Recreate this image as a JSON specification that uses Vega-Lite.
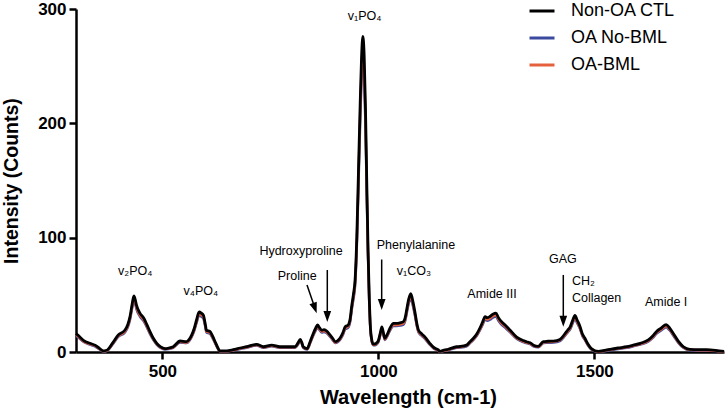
{
  "$schema": "https://vega.github.io/schema/vega-lite/v6.json",
  "width": 648,
  "height": 343,
  "autosize": "none",
  "padding": {"left": 76, "top": 9, "right": 4, "bottom": 61},
  "background": "white",
  "config": {
    "font": "Liberation Sans",
    "view": {"stroke": null},
    "axis": {
      "domainColor": "#000", "domainWidth": 2.5, "tickColor": "#000", "tickWidth": 2.5, "tickSize": 7,
      "labelColor": "#000", "labelFontSize": 17, "labelFontWeight": "bold", "labelFont": "Liberation Sans",
      "titleColor": "#000", "titleFontSize": 20, "titleFontWeight": "bold", "titleFont": "Liberation Sans",
      "grid": false
    }
  },
  "datasets": {
    "spec": [
      {"w":300,"ctl":16,"bml":15.2,"nobml":14.3},
      {"w":305,"ctl":14.5,"bml":13.6,"nobml":12.9},
      {"w":318,"ctl":10,"bml":9.3,"nobml":8.7},
      {"w":332,"ctl":7.6,"bml":7,"nobml":6.5},
      {"w":344,"ctl":6,"bml":5.5,"nobml":5},
      {"w":355,"ctl":3,"bml":2.6,"nobml":2.2},
      {"w":363,"ctl":1,"bml":0.7,"nobml":0.4},
      {"w":371,"ctl":1.5,"bml":1.1,"nobml":0.8},
      {"w":385,"ctl":8,"bml":7.4,"nobml":6.8},
      {"w":398,"ctl":15,"bml":14.1,"nobml":13.4},
      {"w":413,"ctl":19,"bml":17.9,"nobml":17.1},
      {"w":420,"ctl":24,"bml":22.7,"nobml":21.7},
      {"w":425,"ctl":31,"bml":29.5,"nobml":28.2},
      {"w":430,"ctl":42,"bml":40,"nobml":38.5},
      {"w":434,"ctl":49,"bml":46.8,"nobml":45},
      {"w":437,"ctl":46,"bml":43.9,"nobml":42.2},
      {"w":440,"ctl":41,"bml":39,"nobml":37.5},
      {"w":448,"ctl":34,"bml":32.3,"nobml":31},
      {"w":457,"ctl":29.5,"bml":28,"nobml":26.8},
      {"w":464,"ctl":24,"bml":22.7,"nobml":21.7},
      {"w":471,"ctl":18,"bml":17,"nobml":16.1},
      {"w":479,"ctl":12,"bml":11.2,"nobml":10.6},
      {"w":487,"ctl":7.6,"bml":7,"nobml":6.5},
      {"w":496,"ctl":4.5,"bml":4,"nobml":3.6},
      {"w":506,"ctl":3,"bml":2.6,"nobml":2.2},
      {"w":515,"ctl":3.5,"bml":3.1,"nobml":2.7},
      {"w":525,"ctl":4.6,"bml":4.1,"nobml":3.7},
      {"w":541,"ctl":9.6,"bml":8.9,"nobml":8.3},
      {"w":556,"ctl":9,"bml":8.3,"nobml":7.8},
      {"w":562,"ctl":11,"bml":10.3,"nobml":9.6},
      {"w":568,"ctl":15,"bml":14.1,"nobml":13.4},
      {"w":574,"ctl":21,"bml":19.9,"nobml":19},
      {"w":579,"ctl":28,"bml":26.6,"nobml":25.4},
      {"w":585,"ctl":35,"bml":33.3,"nobml":32},
      {"w":590,"ctl":34,"bml":32.3,"nobml":31},
      {"w":595,"ctl":32,"bml":30.4,"nobml":29.2},
      {"w":599,"ctl":25,"bml":23.7,"nobml":22.7},
      {"w":602,"ctl":19,"bml":17.9,"nobml":17.1},
      {"w":610,"ctl":18,"bml":17,"nobml":16.1},
      {"w":616,"ctl":14,"bml":13.1,"nobml":12.4},
      {"w":622,"ctl":9,"bml":8.3,"nobml":7.8},
      {"w":628,"ctl":4,"bml":3.5,"nobml":3.1},
      {"w":633,"ctl":1,"bml":0.7,"nobml":0.4},
      {"w":649,"ctl":1,"bml":0.7,"nobml":0.4},
      {"w":664,"ctl":2,"bml":1.6,"nobml":1.3},
      {"w":680,"ctl":3.5,"bml":3.1,"nobml":2.7},
      {"w":695,"ctl":4.6,"bml":4.1,"nobml":3.7},
      {"w":718,"ctl":6.7,"bml":6.1,"nobml":5.6},
      {"w":734,"ctl":4.6,"bml":4.1,"nobml":3.7},
      {"w":753,"ctl":6,"bml":5.5,"nobml":5},
      {"w":772,"ctl":4.6,"bml":4.1,"nobml":3.7},
      {"w":795,"ctl":4.6,"bml":4.1,"nobml":3.7},
      {"w":807,"ctl":4.6,"bml":4.1,"nobml":3.7},
      {"w":814,"ctl":8,"bml":7.4,"nobml":6.8},
      {"w":819,"ctl":11,"bml":10.3,"nobml":9.6},
      {"w":823,"ctl":8,"bml":7.4,"nobml":6.8},
      {"w":826,"ctl":4.6,"bml":4.1,"nobml":3.7},
      {"w":835,"ctl":3,"bml":2.6,"nobml":2.2},
      {"w":842,"ctl":9,"bml":8.3,"nobml":7.8},
      {"w":849,"ctl":16,"bml":15,"nobml":14.3},
      {"w":855,"ctl":21,"bml":19.9,"nobml":19},
      {"w":859,"ctl":23.6,"bml":22.4,"nobml":21.3},
      {"w":864,"ctl":21,"bml":19.9,"nobml":19},
      {"w":869,"ctl":19,"bml":17.9,"nobml":17.1},
      {"w":874,"ctl":19.5,"bml":18.4,"nobml":17.5},
      {"w":879,"ctl":18.7,"bml":17.7,"nobml":16.8},
      {"w":888,"ctl":15,"bml":14.1,"nobml":13.4},
      {"w":894,"ctl":12,"bml":11.2,"nobml":10.6},
      {"w":900,"ctl":9,"bml":8.3,"nobml":7.8},
      {"w":906,"ctl":10,"bml":9.3,"nobml":8.7},
      {"w":911,"ctl":12,"bml":11.2,"nobml":10.6},
      {"w":918,"ctl":17,"bml":16,"nobml":15.2},
      {"w":923,"ctl":22,"bml":20.8,"nobml":19.9},
      {"w":930,"ctl":23.6,"bml":22.4,"nobml":21.3},
      {"w":935,"ctl":30,"bml":28.5,"nobml":27.3},
      {"w":938,"ctl":39.6,"bml":37.7,"nobml":36.2},
      {"w":942,"ctl":50,"bml":47.7,"nobml":45.9},
      {"w":946,"ctl":63,"bml":60.2,"nobml":58},
      {"w":950,"ctl":100,"bml":95.7,"nobml":92.4},
      {"w":954,"ctl":160,"bml":153.3,"nobml":148.2},
      {"w":958,"ctl":220,"bml":210.9,"nobml":204},
      {"w":961,"ctl":258,"bml":247.4,"nobml":239.3},
      {"w":964,"ctl":276,"bml":264.7,"nobml":256},
      {"w":967,"ctl":260,"bml":249.3,"nobml":241.2},
      {"w":970,"ctl":215,"bml":206.1,"nobml":199.4},
      {"w":973,"ctl":150,"bml":143.7,"nobml":138.9},
      {"w":976,"ctl":90,"bml":86.1,"nobml":83.1},
      {"w":979,"ctl":45,"bml":42.9,"nobml":41.3},
      {"w":981,"ctl":25,"bml":23.7,"nobml":22.7},
      {"w":984,"ctl":12,"bml":11.2,"nobml":10.6},
      {"w":988,"ctl":7,"bml":6.4,"nobml":5.9},
      {"w":992,"ctl":7,"bml":6.4,"nobml":5.9},
      {"w":996,"ctl":8,"bml":7.4,"nobml":6.8},
      {"w":1000,"ctl":10,"bml":9.3,"nobml":8.7},
      {"w":1004,"ctl":16,"bml":15,"nobml":14.3},
      {"w":1008,"ctl":22,"bml":20.8,"nobml":19.9},
      {"w":1012,"ctl":16,"bml":15,"nobml":14.3},
      {"w":1015,"ctl":12,"bml":11.2,"nobml":10.6},
      {"w":1020,"ctl":15,"bml":14.1,"nobml":13.4},
      {"w":1027,"ctl":21,"bml":19.9,"nobml":19},
      {"w":1035,"ctl":25,"bml":23.7,"nobml":22.7},
      {"w":1042,"ctl":25,"bml":23.7,"nobml":22.7},
      {"w":1050,"ctl":25.5,"bml":24.2,"nobml":23.1},
      {"w":1058,"ctl":26.5,"bml":25.1,"nobml":24},
      {"w":1062,"ctl":30,"bml":28.5,"nobml":27.3},
      {"w":1066,"ctl":38,"bml":36.2,"nobml":34.7},
      {"w":1070,"ctl":46,"bml":43.9,"nobml":42.2},
      {"w":1075,"ctl":51,"bml":48.7,"nobml":46.8},
      {"w":1080,"ctl":44,"bml":42,"nobml":40.3},
      {"w":1085,"ctl":34,"bml":32.3,"nobml":31},
      {"w":1089,"ctl":25,"bml":23.7,"nobml":22.7},
      {"w":1093,"ctl":19,"bml":17.9,"nobml":17.1},
      {"w":1100,"ctl":16,"bml":15,"nobml":14.3},
      {"w":1108,"ctl":13,"bml":12.2,"nobml":11.5},
      {"w":1119,"ctl":7.6,"bml":7,"nobml":6.5},
      {"w":1128,"ctl":4,"bml":3.5,"nobml":3.1},
      {"w":1138,"ctl":2,"bml":1.6,"nobml":1.3},
      {"w":1143,"ctl":0.5,"bml":0.2,"nobml":0},
      {"w":1150,"ctl":1.5,"bml":1.1,"nobml":0.8},
      {"w":1158,"ctl":2,"bml":1.6,"nobml":1.3},
      {"w":1166,"ctl":3,"bml":2.6,"nobml":2.2},
      {"w":1181,"ctl":4.6,"bml":4.1,"nobml":3.7},
      {"w":1189,"ctl":4.8,"bml":4.3,"nobml":3.9},
      {"w":1204,"ctl":6,"bml":5.5,"nobml":5},
      {"w":1212,"ctl":9,"bml":8.3,"nobml":7.8},
      {"w":1220,"ctl":12,"bml":11.2,"nobml":10.6},
      {"w":1228,"ctl":16,"bml":15,"nobml":14.3},
      {"w":1235,"ctl":21,"bml":19.9,"nobml":19},
      {"w":1241,"ctl":26,"bml":24.7,"nobml":23.6},
      {"w":1247,"ctl":31,"bml":29.5,"nobml":28.2},
      {"w":1252,"ctl":30,"bml":28.5,"nobml":27.3},
      {"w":1258,"ctl":31,"bml":29.5,"nobml":28.2},
      {"w":1265,"ctl":33,"bml":31.4,"nobml":30.1},
      {"w":1272,"ctl":34,"bml":32.3,"nobml":31},
      {"w":1278,"ctl":30,"bml":28.5,"nobml":27.3},
      {"w":1285,"ctl":26.5,"bml":25.1,"nobml":24},
      {"w":1295,"ctl":23,"bml":21.8,"nobml":20.8},
      {"w":1305,"ctl":19,"bml":17.9,"nobml":17.1},
      {"w":1320,"ctl":13,"bml":12.2,"nobml":11.5},
      {"w":1335,"ctl":10,"bml":9.3,"nobml":8.7},
      {"w":1343,"ctl":9,"bml":8.3,"nobml":7.8},
      {"w":1351,"ctl":8,"bml":7.4,"nobml":6.8},
      {"w":1359,"ctl":6,"bml":5.5,"nobml":5},
      {"w":1370,"ctl":5,"bml":4.5,"nobml":4.1},
      {"w":1382,"ctl":9,"bml":8.3,"nobml":7.8},
      {"w":1392,"ctl":9.4,"bml":8.7,"nobml":8.1},
      {"w":1405,"ctl":9.6,"bml":8.9,"nobml":8.3},
      {"w":1420,"ctl":11,"bml":10.3,"nobml":9.6},
      {"w":1432,"ctl":16,"bml":15,"nobml":14.3},
      {"w":1438,"ctl":19,"bml":17.9,"nobml":17.1},
      {"w":1444,"ctl":22,"bml":20.8,"nobml":19.9},
      {"w":1450,"ctl":28,"bml":26.6,"nobml":25.4},
      {"w":1455,"ctl":32,"bml":30.4,"nobml":29.2},
      {"w":1460,"ctl":28,"bml":26.6,"nobml":25.4},
      {"w":1467,"ctl":22,"bml":20.8,"nobml":19.9},
      {"w":1472,"ctl":16,"bml":15,"nobml":14.3},
      {"w":1478,"ctl":12,"bml":11.2,"nobml":10.6},
      {"w":1485,"ctl":7,"bml":6.4,"nobml":5.9},
      {"w":1493,"ctl":3,"bml":2.6,"nobml":2.2},
      {"w":1509,"ctl":0.5,"bml":0.2,"nobml":0},
      {"w":1536,"ctl":2.3,"bml":1.9,"nobml":1.5},
      {"w":1555,"ctl":3.5,"bml":3.1,"nobml":2.7},
      {"w":1575,"ctl":4.6,"bml":4.1,"nobml":3.7},
      {"w":1590,"ctl":6,"bml":5.5,"nobml":5},
      {"w":1606,"ctl":7.6,"bml":7,"nobml":6.5},
      {"w":1625,"ctl":10.5,"bml":9.8,"nobml":9.2},
      {"w":1635,"ctl":14,"bml":13.1,"nobml":12.4},
      {"w":1644,"ctl":18,"bml":17,"nobml":16.1},
      {"w":1655,"ctl":21,"bml":19.9,"nobml":19},
      {"w":1666,"ctl":24,"bml":22.7,"nobml":21.7},
      {"w":1674,"ctl":21,"bml":19.9,"nobml":19},
      {"w":1683,"ctl":16,"bml":15,"nobml":14.3},
      {"w":1695,"ctl":9,"bml":8.3,"nobml":7.8},
      {"w":1706,"ctl":4.6,"bml":4.1,"nobml":3.7},
      {"w":1721,"ctl":2.3,"bml":1.9,"nobml":1.5},
      {"w":1740,"ctl":2,"bml":1.6,"nobml":1.3},
      {"w":1760,"ctl":2,"bml":1.6,"nobml":1.3},
      {"w":1780,"ctl":1.5,"bml":1.1,"nobml":0.8},
      {"w":1800,"ctl":0.5,"bml":0.2,"nobml":0}
    ],
    "labels": [
      {"w":437,"v":71,"t":"v₂PO₄"},
      {"w":589,"v":53.5,"t":"v₄PO₄"},
      {"w":968,"v":293.5,"t":"v₁PO₄"},
      {"w":821,"v":88.5,"t":"Hydroxyproline"},
      {"w":812,"v":66.5,"t":"Proline"},
      {"w":1087,"v":94,"t":"Phenylalanine"},
      {"w":1082,"v":70.5,"t":"v₁CO₃"},
      {"w":1263,"v":50.5,"t":"Amide III"},
      {"w":1427,"v":81,"t":"GAG"},
      {"w":1666,"v":43.5,"t":"Amide I"}
    ],
    "leftlabels": [
      {"w":1448,"v":62,"t":"CH₂"},
      {"w":1448,"v":47,"t":"Collagen"}
    ],
    "arrows": [
      {"w":834.7,"v":58.6,"w2":853,"v2":38.4},
      {"w":881.7,"v":71.7,"w2":881.7,"v2":31.1},
      {"w":1007.6,"v":80.9,"w2":1007.6,"v2":41.6},
      {"w":1428,"v":67.4,"w2":1428,"v2":27}
    ],
    "heads": [
      {"w":881.7,"v":31.1},
      {"w":1007.6,"v":41.6},
      {"w":1428,"v":27}
    ],
    "diaghead": [
      {"w":853,"v":38.4}
    ]
  },
  "layer": [
    {
      "data": {"name": "spec"},
      "mark": {"type": "line", "strokeWidth": 2.5, "interpolate": "monotone"},
      "encoding": {
        "x": {"field": "w", "type": "quantitative", "scale": {"domain": [300, 1800], "nice": false, "zero": false},
              "axis": {"values": [500, 1000, 1500], "format": "d", "title": "Wavelength (cm-1)", "labelPadding": 4, "titlePadding": 8, "titleX": 332}},
        "y": {"field": "nobml", "type": "quantitative", "scale": {"domain": [0, 300], "nice": false},
              "axis": {"values": [0, 100, 200, 300], "format": "d", "title": "Intensity (Counts)", "titleFontSize": 19.5, "labelPadding": 3, "titlePadding": 16}},
        "color": {"datum": "OA No-BML", "type": "nominal",
                  "scale": {"domain": ["Non-OA CTL", "OA No-BML", "OA-BML"], "range": ["#000000", "#3B4A9E", "#E5603D"]},
                  "legend": {"title": null, "orient": "none", "legendX": 452, "legendY": -12, "symbolType": "stroke",
                             "symbolSize": 625, "symbolStrokeWidth": 3, "labelFontSize": 18, "labelFont": "Liberation Sans",
                             "labelColor": "#000", "labelOffset": 15, "rowPadding": 4, "padding": 0}}
      }
    },
    {
      "data": {"name": "spec"},
      "mark": {"type": "line", "strokeWidth": 2.5, "interpolate": "monotone"},
      "encoding": {
        "x": {"field": "w", "type": "quantitative"},
        "y": {"field": "bml", "type": "quantitative"},
        "color": {"datum": "OA-BML", "type": "nominal"}
      }
    },
    {
      "data": {"name": "spec"},
      "mark": {"type": "line", "strokeWidth": 2.8, "interpolate": "monotone"},
      "encoding": {
        "x": {"field": "w", "type": "quantitative"},
        "y": {"field": "ctl", "type": "quantitative"},
        "color": {"datum": "Non-OA CTL", "type": "nominal"}
      }
    },
    {
      "data": {"name": "labels"},
      "mark": {"type": "text", "fontSize": 12.5, "font": "Liberation Sans", "color": "#000", "align": "center", "baseline": "middle"},
      "encoding": {
        "x": {"field": "w", "type": "quantitative"},
        "y": {"field": "v", "type": "quantitative"},
        "text": {"field": "t"}
      }
    },
    {
      "data": {"name": "leftlabels"},
      "mark": {"type": "text", "fontSize": 12.5, "font": "Liberation Sans", "color": "#000", "align": "left", "baseline": "middle"},
      "encoding": {
        "x": {"field": "w", "type": "quantitative"},
        "y": {"field": "v", "type": "quantitative"},
        "text": {"field": "t"}
      }
    },
    {
      "data": {"name": "arrows"},
      "mark": {"type": "rule", "color": "#000", "strokeWidth": 1.5},
      "encoding": {
        "x": {"field": "w", "type": "quantitative"},
        "y": {"field": "v", "type": "quantitative"},
        "x2": {"field": "w2"},
        "y2": {"field": "v2"}
      }
    },
    {
      "data": {"name": "heads"},
      "mark": {"type": "point", "shape": "M-0.7,-1L0.7,-1L0,1Z", "filled": true, "color": "#000", "size": 121, "opacity": 1},
      "encoding": {
        "x": {"field": "w", "type": "quantitative"},
        "y": {"field": "v", "type": "quantitative"}
      }
    },
    {
      "data": {"name": "diaghead"},
      "mark": {"type": "point", "shape": "M-0.7,-1L0.7,-1L0,1Z", "filled": true, "color": "#000", "size": 121, "opacity": 1, "angle": 341},
      "encoding": {
        "x": {"field": "w", "type": "quantitative"},
        "y": {"field": "v", "type": "quantitative"}
      }
    }
  ]
}
